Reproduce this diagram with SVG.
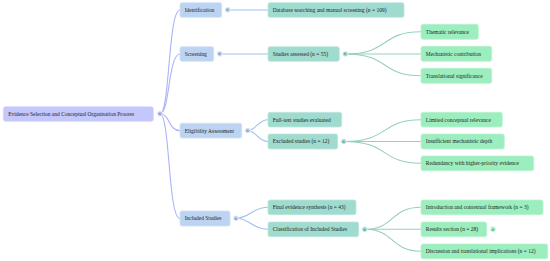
<svg xmlns="http://www.w3.org/2000/svg" width="550" height="261" viewBox="0 0 550 261">
<defs>
<style>
text{font-family:"Liberation Serif","Times New Roman",serif;font-size:5.5px;fill:#1e1e1e}
.r{fill:#c3c7fb;stroke:#d6d8fd;stroke-width:0.8}
.l1{fill:#bcd4f1;stroke:#d0e1f6;stroke-width:0.8}
.l2{fill:#a0dbd0;stroke:#bde6de;stroke-width:0.8}
.l3{fill:#9ceebf;stroke:#b9f3d2;stroke-width:0.8}
.e0{fill:none;stroke:#abb3fa;stroke-width:1.1}
.e1{fill:none;stroke:#9dc1ee;stroke-width:1.1}
.e2{fill:none;stroke:#96cfc1;stroke-width:1.1}
.c{stroke:#ffffff;stroke-width:0.6}
.ct{font-family:"DejaVu Sans",sans-serif;font-size:4px;fill:#555;text-anchor:middle}
</style>
</defs>
<rect width="550" height="261" fill="#ffffff"/>
<g id="connectors">
<path class="e0" d="M160,113.7 C170,113.7 168,10 180,10"/>
<path class="e0" d="M160,113.7 C170,113.7 168,54 180,54"/>
<path class="e0" d="M160,113.7 C170,113.7 168,130.6 180,130.6"/>
<path class="e0" d="M160,113.7 C170,113.7 168,218.5 180,218.5"/>
<path class="e1" d="M227.7,10 L268,10"/>
<path class="e1" d="M219.7,54 L268,54"/>
<path class="e1" d="M247.7,130.5 C256,130.5 258,119.7 268,119.7"/>
<path class="e1" d="M247.7,130.5 C256,130.5 258,141.5 268,141.5"/>
<path class="e1" d="M236,218.3 C250,218.3 252,207.3 268,207.3"/>
<path class="e1" d="M236,218.3 C250,218.3 252,229.3 268,229.3"/>
<path class="e2" d="M345.3,54 C390,54 380,31.8 421,31.8"/>
<path class="e2" d="M345.3,54 L421,54"/>
<path class="e2" d="M345.3,54 C390,54 380,75.8 421,75.8"/>
<path class="e2" d="M343.7,141.5 C390,141.5 380,119.7 421,119.7"/>
<path class="e2" d="M343.7,141.5 L421,141.5"/>
<path class="e2" d="M343.7,141.5 C390,141.5 380,163.3 421,163.3"/>
<path class="e2" d="M364.7,229.3 C395,229.3 390,207.3 421,207.3"/>
<path class="e2" d="M364.7,229.3 L421,229.3"/>
<path class="e2" d="M364.7,229.3 C395,229.3 390,251.3 421,251.3"/>
</g>
<g id="root">
<rect class="r" x="3.3" y="106.7" width="150" height="14.6" rx="2"/>
<text x="8.2" y="115.9">Evidence Selection and Conceptual Organisation Process</text>
<circle class="c" cx="160" cy="113.7" r="2.8" fill="#c3c7fb"/>
<text class="ct" x="160" y="115.1">&lt;</text>
</g>
<g id="identification">
<rect class="l1" x="180" y="2.7" width="41.7" height="14.6" rx="2"/>
<text x="184.7" y="11.9">Identification</text>
<circle class="c" cx="227.7" cy="9.8" r="2.8" fill="#bcd4f1"/>
<text class="ct" x="227.7" y="11.2">&lt;</text>
</g>
<g id="screening">
<rect class="l1" x="180" y="46.7" width="33.7" height="14.6" rx="2"/>
<text x="184.7" y="55.9">Screening</text>
<circle class="c" cx="219.7" cy="53.8" r="2.8" fill="#bcd4f1"/>
<text class="ct" x="219.7" y="55.2">&lt;</text>
</g>
<g id="eligibility">
<rect class="l1" x="180" y="123.3" width="61.7" height="14.7" rx="2"/>
<text x="184.7" y="132.6">Eligibility Assessment</text>
<circle class="c" cx="247.7" cy="130.5" r="2.8" fill="#bcd4f1"/>
<text class="ct" x="247.7" y="131.9">&lt;</text>
</g>
<g id="included">
<rect class="l1" x="180" y="211" width="50" height="15" rx="2"/>
<text x="184.7" y="220.4">Included Studies</text>
<circle class="c" cx="236" cy="218.3" r="2.8" fill="#bcd4f1"/>
<text class="ct" x="236" y="219.7">&lt;</text>
</g>
<g id="database">
<rect class="l2" x="268" y="2.7" width="136" height="14.6" rx="2"/>
<text x="272.7" y="11.9">Database searching and manual screening (n = 109)</text>
</g>
<g id="assessed">
<rect class="l2" x="268" y="46.7" width="71.3" height="14.6" rx="2"/>
<text x="272.7" y="55.9">Studies assessed (n = 55)</text>
<circle class="c" cx="345.3" cy="54" r="2.8" fill="#a0dbd0"/>
<text class="ct" x="345.3" y="55.4">&lt;</text>
</g>
<g id="fulltext">
<rect class="l2" x="268" y="112.3" width="73.7" height="14.7" rx="2"/>
<text x="272.7" y="121.6">Full-text studies evaluated</text>
</g>
<g id="excluded">
<rect class="l2" x="268" y="134" width="69.7" height="15" rx="2"/>
<text x="272.7" y="143.4">Excluded studies (n = 12)</text>
<circle class="c" cx="343.7" cy="141.5" r="2.8" fill="#a0dbd0"/>
<text class="ct" x="343.7" y="142.9">&lt;</text>
</g>
<g id="final">
<rect class="l2" x="268" y="200" width="88" height="14.7" rx="2"/>
<text x="272.7" y="209.3">Final evidence synthesis (n = 43)</text>
</g>
<g id="classification">
<rect class="l2" x="268" y="222" width="90.7" height="14.7" rx="2"/>
<text x="272.7" y="231.3">Classification of Included Studies</text>
<circle class="c" cx="364.7" cy="229.3" r="2.8" fill="#a0dbd0"/>
<text class="ct" x="364.7" y="230.7">&lt;</text>
</g>
<g id="thematic">
<rect class="l3" x="421" y="24.3" width="57.3" height="15" rx="2"/>
<text x="425.8" y="33.7">Thematic relevance</text>
</g>
<g id="mechanistic">
<rect class="l3" x="421" y="46.3" width="70.7" height="15" rx="2"/>
<text x="425.8" y="55.7">Mechanistic contribution</text>
</g>
<g id="translational">
<rect class="l3" x="421" y="68.3" width="70.7" height="15" rx="2"/>
<text x="425.8" y="77.7">Translational significance</text>
</g>
<g id="limited">
<rect class="l3" x="421" y="112.3" width="81.3" height="14.7" rx="2"/>
<text x="425.8" y="121.6">Limited conceptual relevance</text>
</g>
<g id="insufficient">
<rect class="l3" x="421" y="134" width="83.3" height="15" rx="2"/>
<text x="425.8" y="143.4">Insufficient mechanistic depth</text>
</g>
<g id="redundancy">
<rect class="l3" x="421" y="156" width="112.7" height="14.7" rx="2"/>
<text x="425.8" y="165.3">Redundancy with higher-priority evidence</text>
</g>
<g id="introduction">
<rect class="l3" x="421" y="200" width="122" height="14.7" rx="2"/>
<text x="425.8" y="209.3">Introduction and contextual framework (n = 3)</text>
</g>
<g id="results">
<rect class="l3" x="421" y="222" width="65.7" height="14.7" rx="2"/>
<text x="425.8" y="231.3">Results section (n = 28)</text>
<circle class="c" cx="493" cy="229.3" r="2.8" fill="#9ceebf"/>
<text class="ct" x="493" y="230.7">&gt;</text>
</g>
<g id="discussion">
<rect class="l3" x="421" y="244" width="126.7" height="14.7" rx="2"/>
<text x="425.8" y="253.3">Discussion and translational implications (n = 12)</text>
</g>
</svg>
